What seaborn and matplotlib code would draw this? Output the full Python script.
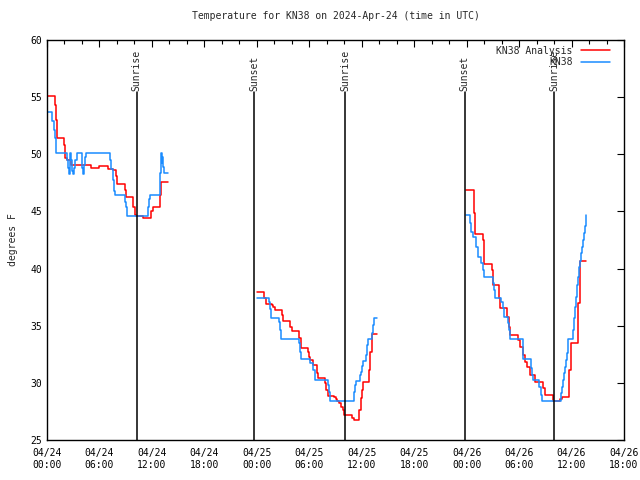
import numpy as np
import pandas as pd
import seaborn as sns
import matplotlib
matplotlib.use("Agg")
import matplotlib.pyplot as plt
from matplotlib.ticker import MultipleLocator

# hours after 04/24 00:00 UTC, temperatures in deg F (one list per day segment)
ana_hours_1 = [0.0, 0.92, 1.0, 1.1, 1.2, 1.9, 2.05, 2.3, 2.8, 5.0, 6.0, 7.0, 7.6, 7.85, 7.95, 8.95, 9.05,
               9.85, 10.1, 10.2, 11.02, 11.85, 12.15, 12.9, 13.0, 13.85]
ana_temps_1 = [55.1, 54.3, 53.0, 51.8, 51.4, 50.8, 49.7, 49.5, 49.1, 48.8, 48.95, 48.7, 48.6, 48.1, 47.4, 46.9, 46.3,
               45.4, 44.7, 44.6, 44.45, 45.0, 45.4, 46.4, 47.55, 47.55]
obs_hours_1 = [0.0, 0.55, 0.8, 0.9, 1.05, 2.25, 2.45, 2.55, 2.63, 2.75, 2.9, 3.0, 3.09, 3.2, 3.39, 3.97, 4.08,
               4.2, 4.35, 4.46, 7.2, 7.35, 7.5, 7.62, 7.75, 8.9, 9.03, 9.15, 11.5, 11.63, 11.75, 12.92, 13.0,
               13.12, 13.2, 13.3, 13.4, 13.88]
obs_temps_1 = [53.7, 52.9, 52.15, 51.4, 50.1, 49.5, 48.8, 48.3, 50.1, 49.5, 48.5, 48.3, 48.8, 49.5, 50.1, 48.8, 48.3,
               49.1, 49.8, 50.1, 49.5, 48.7, 47.75, 46.75, 46.44, 45.85, 45.4, 44.6, 45.4, 46.06, 46.44, 48.33, 50.08,
               49.2, 49.8, 48.9, 48.33, 48.33]

ana_hours_2 = [24.0, 24.8, 25.0, 25.7, 25.85, 26.04, 26.92, 27.04, 27.8, 27.99, 28.87, 29.02, 29.86, 29.95, 30.1,
               30.47, 30.85, 31.04, 31.8, 31.92, 32.11, 32.83, 33.02, 33.22, 33.41, 33.63, 33.83, 34.02, 34.93,
               35.12, 35.73, 35.88, 36.0, 36.11, 36.84, 36.95, 37.14, 37.22, 37.79]
ana_temps_2 = [37.92, 37.39, 36.9, 36.81, 36.66, 36.37, 35.94, 35.41, 34.91, 34.54, 33.9, 33.08, 32.73, 32.3, 32.0,
               31.56, 30.9, 30.39, 29.95, 29.37, 28.85, 28.73, 28.58, 28.44, 28.26, 27.91, 27.62, 27.18, 26.89,
               26.75, 27.62, 28.64, 29.37, 30.1, 31.12, 32.72, 33.45, 34.27, 34.27]
obs_hours_2 = [24.0, 25.4, 25.51, 25.66, 26.54, 26.65, 26.73, 28.83, 28.94, 29.02, 30.09, 30.4, 30.6, 32.19, 32.26,
               32.38, 35.12, 35.24, 35.35, 35.81, 35.88, 36.0, 36.11, 36.5, 36.65, 36.76, 37.14, 37.26, 37.41, 37.79]
obs_temps_2 = [37.39, 37.1, 36.46, 35.64, 35.35, 34.62, 33.84, 33.46, 32.73, 32.09, 31.71, 31.13, 30.25, 29.81, 29.23,
               28.44, 29.23, 29.81, 30.19, 30.68, 30.97, 31.47, 31.94, 32.43, 33.31, 33.8, 34.33, 35.06, 35.64, 35.64]

ana_hours_3 = [47.94, 48.81, 48.89, 48.97, 49.0, 49.84, 49.96, 50.04, 50.91, 50.99, 51.75, 51.87, 52.63, 52.82,
               52.98, 53.93, 54.12, 54.42, 54.69, 54.96, 55.26, 55.83, 56.79, 56.98, 57.86, 57.93, 58.69, 58.89,
               59.76, 59.95, 60.79, 60.91, 61.02, 61.63]
ana_temps_3 = [46.88, 46.0, 44.83, 43.67, 43.0, 42.5, 41.33, 40.4, 39.88, 38.56, 37.4, 36.52, 35.79, 34.92,
               34.18, 33.75, 33.16, 32.43, 31.85, 31.41, 30.69, 30.1, 29.52, 28.94, 28.56, 28.41, 28.56, 28.74,
               31.13, 33.46, 36.96, 39.29, 40.66, 40.66]
obs_hours_3 = [47.94, 48.43, 48.55, 48.7, 49.12, 49.27, 49.69, 49.88, 50.04, 50.99, 51.18, 51.29, 51.98, 52.13,
               52.25, 52.7, 52.82, 52.95, 54.5, 55.38, 55.53, 55.64, 56.33, 56.48, 56.67, 58.77, 58.89, 59.0, 59.15,
               59.27, 59.38, 59.46, 59.57, 59.65, 60.14, 60.26, 60.41, 60.53, 60.64, 60.72, 60.83, 60.94, 61.06,
               61.17, 61.29, 61.44, 61.52, 61.63]
obs_temps_3 = [44.69, 43.96, 43.23, 42.79, 41.92, 41.04, 40.46, 39.88, 39.23, 38.71, 38.13, 37.4, 37.1, 36.52,
               35.79, 35.21, 34.63, 33.8, 32.1, 31.27, 30.69, 30.25, 29.67, 28.94, 28.41, 29.09, 29.67, 30.25, 30.84,
               31.42, 32.0, 32.58, 33.46, 33.84, 34.63, 35.65, 36.67, 37.54, 38.56, 39.29, 40.17, 40.66, 41.33,
               41.92, 42.5, 43.08, 43.73, 44.69]

sun_hours = [10.26, 23.73, 34.12, 47.79, 58.05]
sun_labels = ["Sunrise", "Sunset", "Sunrise", "Sunset", "Sunrise"]

tick_hours = list(range(0, 67, 6))
tick_labels = ["04/24\n00:00", "04/24\n06:00", "04/24\n12:00", "04/24\n18:00",
               "04/25\n00:00", "04/25\n06:00", "04/25\n12:00", "04/25\n18:00",
               "04/26\n00:00", "04/26\n06:00", "04/26\n12:00", "04/26\n18:00"]

# build long table
frames = []
segs = [(ana_hours_1, ana_temps_1, obs_hours_1, obs_temps_1),
        (ana_hours_2, ana_temps_2, obs_hours_2, obs_temps_2),
        (ana_hours_3, ana_temps_3, obs_hours_3, obs_temps_3)]
for i, (ah, at, oh, ot) in enumerate(segs):
    frames.append(pd.DataFrame({"hour": ah, "temp": at, "series": "KN38 Analysis", "seg": i}))
    frames.append(pd.DataFrame({"hour": oh, "temp": ot, "series": "KN38", "seg": i}))
df = pd.concat(frames, ignore_index=True)

sns.set_style("white")
plt.rcParams["font.family"] = ["DejaVu Sans Mono"]
plt.rcParams["font.size"] = 7

fig = plt.figure(figsize=(6.4, 4.8), dpi=100)
ax = fig.add_axes([47 / 640, 40 / 480, 577 / 640, 400 / 480])

sns.lineplot(data=df, x="hour", y="temp", hue="series", units="seg", estimator=None,
             hue_order=["KN38 Analysis", "KN38"],
             palette={"KN38 Analysis": "#ff0000", "KN38": "#1a8cff"},
             drawstyle="steps-post", linewidth=1.1, ax=ax)

# sunrise / sunset markers
for h, lab in zip(sun_hours, sun_labels):
    ax.plot([h, h], [25, 55.45], color="black", linewidth=1.1)
    ax.text(h, 55.55, lab, rotation=90, ha="center", va="bottom", fontsize=7)

ax.set_xlim(0, 66)
ax.set_ylim(25, 60)
ax.set_xticks(tick_hours)
ax.set_xticklabels(tick_labels)
ax.xaxis.set_minor_locator(MultipleLocator(2))
ax.yaxis.set_major_locator(MultipleLocator(5))
ax.tick_params(which="both", direction="in", top=True, right=True, colors="black", labelsize=7)
ax.tick_params(which="major", length=5, width=0.8)
ax.tick_params(which="minor", length=3, width=0.8)
ax.tick_params(axis="x", pad=6)
for s in ax.spines.values():
    s.set_color("black")
    s.set_linewidth(1)

ax.set_xlabel("")
ax.set_ylabel("degrees F", fontsize=7, labelpad=9)
ax.set_title("Temperature for KN38 on 2024-Apr-24 (time in UTC)", fontsize=7, pad=15)

handles, labels = ax.get_legend_handles_labels()
ax.legend(handles, labels, loc="upper right", bbox_to_anchor=(0.987, 1.003), frameon=False,
          markerfirst=False, fontsize=7, handlelength=3.0, handletextpad=0.8, labelspacing=0.15,
          borderaxespad=0.3)

fig.savefig("out.png", dpi=100)
